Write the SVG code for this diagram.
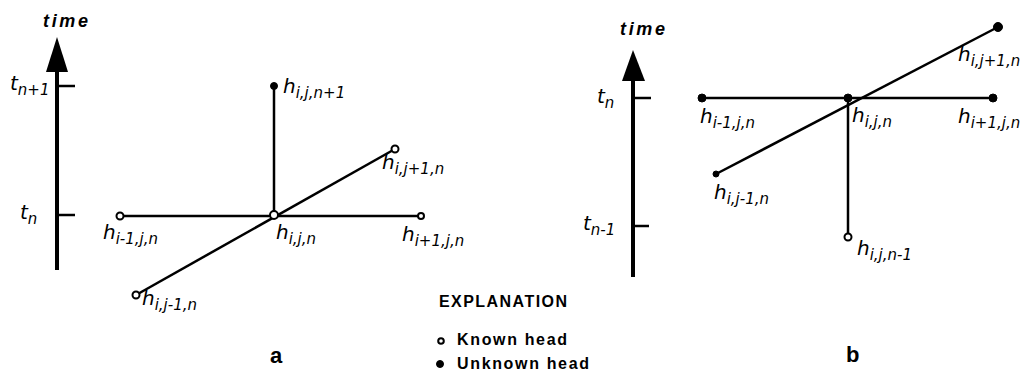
<svg xmlns="http://www.w3.org/2000/svg" width="1033" height="371" viewBox="0 0 1033 371">
<style>
.ax{stroke:#000;stroke-width:4;fill:none}
.tk{stroke:#000;stroke-width:2.5;fill:none}
.ln{stroke:#000;stroke-width:2.5;fill:none}
.lbl{font-family:"DejaVu Sans","Liberation Sans",sans-serif;font-style:italic;font-size:20px;fill:#000}
.sub{font-size:15px}
.ttl{font-family:"Liberation Sans",Arial,sans-serif;font-style:italic;font-weight:bold;font-size:18px;fill:#000}
.leg{font-family:"Liberation Sans",Arial,sans-serif;font-weight:bold;font-size:16px;fill:#000}
.pl{font-family:"Liberation Sans",Arial,sans-serif;font-weight:bold;font-size:22px;fill:#000}
.open{fill:#fff;stroke:#000;stroke-width:2}
.fill{fill:#000;stroke:#000;stroke-width:1}
</style>
<rect width="1033" height="371" fill="#fff"/>

<g id="axis-a">
<line class="ax" x1="57" y1="270" x2="57" y2="70"/>
<polygon points="57,37 46,72 68,72" fill="#000"/>
<line class="tk" x1="57" y1="86" x2="75" y2="86"/>
<line class="tk" x1="57" y1="215" x2="75" y2="215"/>
<text class="ttl" x="43" y="27" textLength="45">time</text>
<text class="lbl" x="10" y="90">t<tspan class="sub" dy="5">n+1</tspan></text>
<text class="lbl" x="20" y="219">t<tspan class="sub" dy="5">n</tspan></text>
</g>

<g id="connectors-a">
<line class="ln" x1="120" y1="216" x2="421" y2="216"/>
<line class="ln" x1="274" y1="86" x2="274" y2="215"/>
<line class="ln" x1="136" y1="295" x2="395" y2="149"/>
</g>

<g id="a-hijn"><circle class="open" cx="274" cy="215" r="4"/><text class="lbl" x="276" y="239">h<tspan class="sub" dy="5">i,j,n</tspan></text></g>
<g id="a-hi-1jn"><circle class="open" cx="120" cy="216" r="3.5"/><text class="lbl" x="103" y="239">h<tspan class="sub" dy="5">i-1,j,n</tspan></text></g>
<g id="a-hi+1jn"><circle class="open" cx="421" cy="216" r="3"/><text class="lbl" x="402" y="241">h<tspan class="sub" dy="5">i+1,j,n</tspan></text></g>
<g id="a-hijn+1"><circle class="fill" cx="274" cy="86" r="3.5"/><text class="lbl" x="283" y="93">h<tspan class="sub" dy="5">i,j,n+1</tspan></text></g>
<g id="a-hij+1n"><circle class="open" cx="395" cy="149" r="3.5"/><text class="lbl" x="382" y="169">h<tspan class="sub" dy="5">i,j+1,n</tspan></text></g>
<g id="a-hij-1n"><circle class="open" cx="136" cy="295" r="3.5"/><text class="lbl" x="142" y="305">h<tspan class="sub" dy="5">i,j-1,n</tspan></text></g>
<text class="pl" x="270" y="363">a</text>

<g id="legend">
<text class="leg" x="439" y="307" textLength="128">EXPLANATION</text>
<circle class="open" cx="441" cy="341" r="2.8" stroke-width="2"/>
<text class="leg" x="457" y="345" font-size="17" textLength="110">Known head</text>
<circle class="fill" cx="440" cy="364" r="3.5"/>
<text class="leg" x="457" y="369" font-size="17" textLength="132">Unknown head</text>
</g>

<g id="axis-b">
<line class="ax" x1="633" y1="277" x2="633" y2="78"/>
<polygon points="633,50 622,81 645,81" fill="#000"/>
<line class="tk" x1="633" y1="98" x2="651" y2="98"/>
<line class="tk" x1="633" y1="226" x2="649" y2="226"/>
<text class="ttl" x="620" y="35" textLength="45">time</text>
<text class="lbl" x="597" y="103">t<tspan class="sub" dy="5">n</tspan></text>
<text class="lbl" x="583" y="230">t<tspan class="sub" dy="5">n-1</tspan></text>
</g>

<g id="connectors-b">
<line class="ln" x1="702" y1="98" x2="993" y2="98"/>
<line class="ln" x1="848" y1="98" x2="848" y2="237"/>
<line class="ln" x1="716" y1="174" x2="998" y2="27"/>
</g>

<g id="b-hijn"><circle class="fill" cx="848" cy="98" r="4"/><text class="lbl" x="852" y="122">h<tspan class="sub" dy="5">i,j,n</tspan></text></g>
<g id="b-hi-1jn"><circle class="fill" cx="702" cy="98" r="4"/><text class="lbl" x="700" y="123">h<tspan class="sub" dy="5">i-1,j,n</tspan></text></g>
<g id="b-hi+1jn"><circle class="fill" cx="993" cy="98" r="4"/><text class="lbl" x="958" y="123">h<tspan class="sub" dy="5">i+1,j,n</tspan></text></g>
<g id="b-hij+1n"><circle class="fill" cx="998" cy="27" r="4.5"/><text class="lbl" x="958" y="61">h<tspan class="sub" dy="5">i,j+1,n</tspan></text></g>
<g id="b-hij-1n"><circle class="fill" cx="716" cy="174" r="3"/><text class="lbl" x="714" y="199">h<tspan class="sub" dy="5">i,j-1,n</tspan></text></g>
<g id="b-hijn-1"><circle class="open" cx="848" cy="237" r="3.5"/><text class="lbl" x="857" y="255">h<tspan class="sub" dy="5">i,j,n-1</tspan></text></g>
<text class="pl" x="846" y="362">b</text>
</svg>
